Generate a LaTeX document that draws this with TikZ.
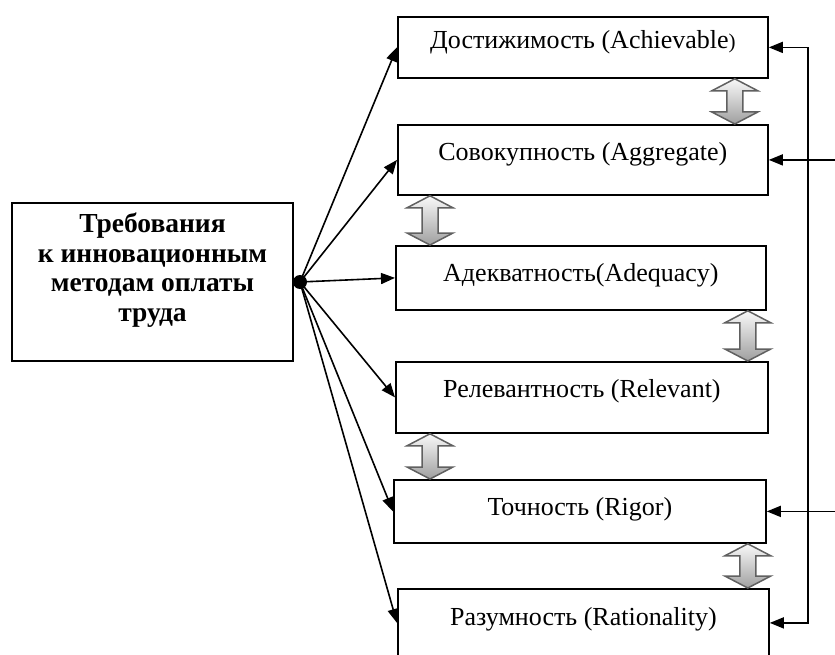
\documentclass[tikz,border=0pt]{standalone}
\usepackage{fontspec}
\setmainfont{Liberation Serif}
\usetikzlibrary{positioning}
\usetikzlibrary{arrows.meta}
\usetikzlibrary{calc}
\tikzset{crit/.style={draw, line width=1.8pt, inner sep=0pt, anchor=north west}}
\tikzset{twoway/.style={draw=gray!75!black, line width=1.5pt, top color=gray!5, bottom color=gray!75,
  to path={let \p1=(\tikztostart), \p2=(\tikztotarget) in
    (\x1,\y1) -- ({\x1+23pt},{\y1-12pt}) -- ({\x1+8pt},{\y1-12pt}) -- ({\x1+8pt},{\y2+12pt})
    -- ({\x1+23pt},{\y2+12pt}) -- (\x1,\y2) -- ({\x1-23pt},{\y2+12pt}) -- ({\x1-8pt},{\y2+12pt})
    -- ({\x1-8pt},{\y1-12pt}) -- ({\x1-23pt},{\y1-12pt}) -- cycle}}}

\begin{document}
\begin{tikzpicture}[x=1pt, y=-1pt, font=\fontsize{26pt}{29pt}\selectfont,
  >={Triangle[length=14pt, width=11pt]}]
\useasboundingbox (0,0) rectangle (835,655);

\node[draw, line width=1.8pt, minimum width=281pt, minimum height=158pt, align=center,
  font=\fontsize{27.5pt}{29.5pt}\selectfont\bfseries] (req) at (152.5,282)
  {Требования\\к инновационным\\методам оплаты\\труда\\\mbox{}};

\foreach \name/\x/\y/\w/\b/\d/\txt in {
  ach/397/16/370/32/29/{Достижимость (Achievable{\fontsize{21pt}{21pt}\selectfont)}},
  agg/397/124/370/36/34/Совокупность (Aggregate),
  adq/395/245/370/36/28/Адекватность(Adequacy),
  rel/395/361/372/36/35/Релевантность (Relevant),
  rig/393/479/372/36/27/Точность (Rigor),
  rat/397/588/371/37/31/Разумность (Rationality)} {
\node[crit, minimum width=\w pt, text height=\b pt, text depth=\d pt] (\name) at (\x,\y) {\txt};
}

% fan of arrows
\coordinate (hub) at (300,282);
\fill (hub) circle (7pt);
\foreach \name in {ach,agg,adq,rel,rig,rat} {
\draw[->, line width=1.6pt] (hub) -- (\name.west);
}

% right side
\coordinate (rail) at (808,0);
\coordinate (edge) at (836,0);
\draw[<->, line width=1.6pt] (ach.east) -- (ach.east -| rail) -- (rat.east -| rail) -- (rat.east);
\draw[<-, line width=1.6pt] (agg.east) -- (agg.east -| edge);
\draw[<-, line width=1.6pt] (rig.east) -- (rig.east -| edge);

% double arrows
\path[twoway] ($(ach.south east)+(-34,0)$) to ($(agg.north east)+(-34,0)$);
\path[twoway] ($(agg.south west)+(33,0)$) to ($(adq.north west)+(33,0)$);
\path[twoway] ($(adq.south east)+(-19,0)$) to ($(rel.north east)+(-19,0)$);
\path[twoway] ($(rel.south west)+(35,0)$) to ($(rig.north west)+(35,0)$);
\path[twoway] ($(rig.south east)+(-19,0)$) to ($(rat.north east)+(-19,0)$);
\end{tikzpicture}
\end{document}
